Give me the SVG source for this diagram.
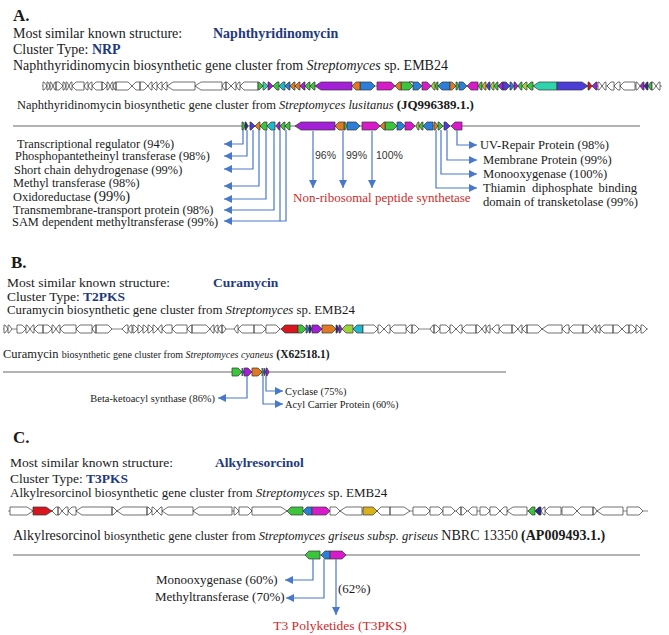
<svg xmlns="http://www.w3.org/2000/svg" width="669" height="635" viewBox="0 0 669 635">
<style>
.t{font-family:"Liberation Serif","Times New Roman",serif;fill:#1a1a1a}
.s{font-family:"Liberation Sans",Arial,sans-serif;fill:#333}
.bd{font-weight:bold}
.hb{font-weight:bold;fill:#1f3a7c}
.rt{fill:#d02a2a}
.it{font-style:italic}
.genes path{stroke:#333;stroke-width:0.7;stroke-linejoin:round}
.w{fill:#fff}.pu{fill:#a41fd8}.gr{fill:#3dc43d}.cb{fill:#2b7fd8}.mg{fill:#d81bc8}.or{fill:#e07a22}.cy{fill:#20b8cc}.tl{fill:#2fd4ad}.bv{fill:#4c3dd8}.rd{fill:#d8161e}.ye{fill:#d9b11a}.li{fill:#9fd33a}.dk{fill:#2d2a8f}
.ax{fill:none;stroke:#4a78c8;stroke-width:1.2;marker-end:url(#ah)}
.ln{fill:none;stroke:#4a78c8;stroke-width:1.2}
.base{stroke:#9a9a9a;stroke-width:1.5}
.bb{stroke:#666;stroke-width:0.8}
</style>
<defs>
<marker id="ah" viewBox="0 0 8 8" refX="8" refY="4" markerWidth="8" markerHeight="8" markerUnits="userSpaceOnUse" orient="auto"><path d="M0,0L8,4L0,8Z" fill="#4a78c8"/></marker>
</defs>

<!-- Section A -->
<g id="sectionA-header">
<text class="t bd" x="13" y="21" font-size="17">A.</text>
<text class="t" x="13" y="38" font-size="14">Most similar known structure:</text>
<text class="t hb" x="213" y="38" font-size="14">Naphthyridinomycin</text>
<text class="t" x="13" y="54" font-size="14">Cluster Type: <tspan class="hb">NRP</tspan></text>
<text class="t" x="13" y="70" font-size="14">Naphthyridinomycin biosynthetic gene cluster from <tspan class="it">Streptomyces</tspan> sp. EMB24</text>
<text class="t" x="17" y="109" font-size="12.5">Naphthyridinomycin biosynthetic gene cluster from <tspan class="it">Streptomyces lusitanus</tspan> <tspan class="bd" font-size="13">(JQ996389.1.)</tspan></text>
</g>
<g id="clusterA-query" class="genes">
<line class="bb" x1="42" y1="86" x2="662" y2="86"/>
<path class="w" d="M43 82H44L47 86L44 90H43Z M47 82H48L50 86L48 90H47Z M50 82H51L53 86L51 90H50Z M56 82H55L53 86L55 90H56Z M56 82H59L63 86L59 90H56Z M63 82H64L66 86L64 90H63Z M66 82H67L69 86L67 90H66Z M72 82H71L69 86L71 90H72Z M84 82H76L72 86L76 90H84Z M88 82H87L84 86L87 90H88Z M92 82H91L88 86L91 90H92Z M102 82H96L92 86L96 90H102Z M102 82H103L107 86L103 90H102Z M107 82H108L110 86L108 90H107Z M113 82H112L110 86L112 90H113Z M116 82H115L113 86L115 90H116Z M116 82H128L132 86L128 90H116Z M140 82H136L132 86L136 90H140Z M140 82H144L148 86L144 90H140Z M152 82H151L148 86L151 90H152Z M157 82H156L152 86L156 90H157Z M162 82H161L157 86L161 90H162Z M167 82H166L162 86L166 90H167Z M195 82H173L167 86L173 90H195Z M222 82H201L195 86L201 90H222Z M226 82H225L222 86L225 90H226Z M226 82H227L231 86L227 90H226Z M236 82H235L231 86L235 90H236Z M240 82H239L236 86L239 90H240Z M258 82H244L240 86L244 90H258Z"/>
<path class="gr" d="M258 82H259L263 86L259 90H258Z M277 82L273 86L277 90H279V82Z M310 82H309L305 86L309 90H310Z M315 82H314L310 86L314 90H315Z M413 82H409L413 86L409 90H401V82Z M438 82H437L435 86L437 90H438Z M456 82H457L459 86L457 90H456Z M482 82H481L478 86L481 90H482Z M498 82H497L494 86L497 90H498Z M522 82H521L518 86L521 90H522Z M533 82H531L527 86L531 90H533Z M652 82H651L648 86L651 90H652Z"/>
<path class="tl" d="M263 82H264L268 86L264 90H263Z M557 82H539L533 86L539 90H557Z"/>
<path class="pu" d="M268 82H269L273 86L269 90H268Z M305 82H304L300 86L304 90H305Z M352 82H321L315 86L321 90H352Z M503 82H502L498 86L502 90H503Z M514 82H515L518 86L515 90H514Z M597 82H596L592 86L596 90H597Z M644 82H643L640 86L643 90H644Z"/>
<path class="cy" d="M285 82H283L279 86L283 90H285Z"/>
<path class="cb" d="M290 82H289L285 86L289 90H290Z M360 82H371L375 86L371 90H360Z M413 82H418L422 86L418 90H413Z M450 82H442L438 86L442 90H450Z M459 82H463L467 86L463 90H459Z M510 82H511L514 86L511 90H510Z"/>
<path class="or" d="M295 82H294L290 86L294 90H295Z M300 82H299L295 86L299 90H300Z M360 82H356L352 86L356 90H360Z M401 82H399L395 86L399 90H401Z M450 82H452L456 86L452 90H450Z"/>
<path class="mg" d="M377 82H391L395 86L391 90H377Z M422 82H427L431 86L427 90H422Z M478 82H471L467 86L471 90H478Z"/>
<path class="li" d="M435 82H434L431 86L434 90H435Z M494 82H493L490 86L493 90H494Z M527 82H526L522 86L526 90H527Z"/>
<path class="ye" d="M486 82H485L482 86L485 90H486Z"/>
<path class="bv" d="M490 82H489L486 86L489 90H490Z M503 82H506L510 86L506 90H503Z M557 82H582L588 86L582 90H557Z"/>
<path class="rd" d="M588 82H589L592 86L589 90H588Z"/>
<path class="dk" d="M648 82H647L644 86L647 90H648Z"/>
<path class="w" d="M598 82H599L602 86L599 90H598Z M606 82H605L602 86L605 90H606Z M614 82H611L607 86L611 90H614Z M620 82H618L614 86L618 90H620Z M635 82H624L620 86L624 90H635Z M636 82H637L640 86L637 90H636Z M652 82H653L656 86L653 90H652Z M660 82H659L656 86L659 90H660Z"/>
</g>
<g id="clusterA-reference" class="genes">
<line class="base" x1="13" y1="126" x2="640" y2="126"/>
<path class="gr" d="M242 122H243L245 126L243 130H242Z M267 122H264L260 126L264 130H267Z M285 122H284L280 126L284 130H285Z M290 122H289L285 126L289 130H290Z M344 122H345L347 126L345 130H344Z M385 122H393L397 126L393 130H385Z M423 122H422L419 126L422 130H423Z M438 122H439L443 126L439 130H438Z"/>
<path class="dk" d="M245 122H246L248 126L246 130H245Z"/>
<path class="bv" d="M250 122H251L255 126L251 130H250Z M444 122H446L450 126L446 130H444Z"/>
<path class="or" d="M260 122H259L255 126L259 130H260Z M344 122H339L335 126L339 130H344Z M385 122H384L380 126L384 130H385Z M434 122H435L438 126L435 130H434Z"/>
<path class="cy" d="M275 122H271L267 126L271 130H275Z"/>
<path class="pu" d="M280 122H279L276 126L279 130H280Z M335 122H301L295 126L301 130H335Z"/>
<path class="cb" d="M347 122H356L360 126L356 130H347Z M397 122H401L405 126L401 130H397Z M433 122H427L423 126L427 130H433Z"/>
<path class="mg" d="M362 122H376L380 126L376 130H362Z M405 122H411L415 126L411 130H405Z M462 122H455L451 126L455 130H462Z"/>
<path class="li" d="M419 122H418L416 126L418 130H419Z"/>
</g>
<g id="labelsA-left">
<text class="t" x="17" y="148" font-size="12.4">Transcriptional regulator (94%)</text>
<text class="t" x="15" y="160" font-size="12.4">Phosphopantetheinyl transferase (98%)</text>
<text class="t" x="14" y="174" font-size="12.4">Short chain dehydrogenase (99%)</text>
<text class="t" x="13" y="187" font-size="12.4">Methyl transferase (98%)</text>
<text class="t" x="13" y="201" font-size="12.4">Oxidoreductase <tspan font-size="14.5">(99%)</tspan></text>
<text class="t" x="13" y="214" font-size="12.4">Transmembrane-transport protein (98%)</text>
<text class="t" x="12" y="226" font-size="12.4">SAM dependent methyltransferase (99%)</text>
</g>
<g id="labelsA-nrps">
<text class="s" x="315" y="159" font-size="10.5">96%</text>
<text class="s" x="346" y="159" font-size="10.5">99%</text>
<text class="s" x="376" y="159" font-size="10.5">100%</text>
<text class="t rt" x="293" y="202" font-size="13">Non-ribosomal peptide synthetase</text>
</g>
<g id="labelsA-right">
<text class="t" x="480" y="149" font-size="12.6">UV-Repair Protein (98%)</text>
<text class="t" x="483" y="164" font-size="12.6">Membrane Protein (99%)</text>
<text class="t" x="483" y="178" font-size="12.6">Monooxygenase (100%)</text>
<text class="t" x="483" y="192" font-size="12.6">Thiamin</text>
<text class="t" x="532" y="192" font-size="12.6">diphosphate</text>
<text class="t" x="637" y="192" font-size="12.6" text-anchor="end">binding</text>
<text class="t" x="483" y="206" font-size="12.6">domain of transketolase (99%)</text>
</g>

<!-- Section B -->
<g id="sectionB-header">
<text class="t bd" x="11" y="268" font-size="17">B.</text>
<text class="t" x="7" y="287" font-size="13.5">Most similar known structure:</text>
<text class="t hb" x="213" y="287" font-size="13.5">Curamycin</text>
<text class="t" x="7" y="301" font-size="13.5">Cluster Type: <tspan class="hb">T2PKS</tspan></text>
<text class="t" x="7" y="314" font-size="12.8">Curamycin biosynthetic gene cluster from <tspan class="it">Streptomyces</tspan> sp. EMB24</text>
<text class="t" x="3" y="358" font-size="12.5">Curamycin <tspan font-size="10">biosynthetic gene cluster from </tspan><tspan class="it" font-size="10">Streptomyces cyaneus</tspan> <tspan class="bd" font-size="11.5">(X62518.1)</tspan></text>
</g>
<g id="clusterB-query" class="genes">
<line class="bb" x1="3" y1="329" x2="648" y2="329"/>
<path class="w" d="M4 325H5L8 329L5 333H4Z M8 325H9L12 329L9 333H8Z M17 325H22L26 329L22 333H17Z M26 325H27L30 329L27 333H26Z M34 325H33L30 329L33 333H34Z M43 325H38L34 329L38 333H43Z M43 325H48L52 329L48 333H43Z M52 325H53L56 329L53 333H52Z M60 325H59L56 329L59 333H60Z M76 325H64L60 329L64 333H76Z M92 325H80L76 329L80 333H92Z M96 325H95L92 329L95 333H96Z M96 325H108L112 329L108 333H96Z M128 325H126L122 329L126 333H128Z M132 325H131L128 329L131 333H132Z M133 325H134L138 329L134 333H133Z M138 325H139L143 329L139 333H138Z M143 325H144L148 329L144 333H143Z M148 325H149L153 329L149 333H148Z M153 325H154L158 329L154 333H153Z M162 325H161L158 329L161 333H162Z M172 325H166L162 329L166 333H172Z M187 325H176L172 329L176 333H187Z M192 325H191L187 329L191 333H192Z M192 325H206L210 329L206 333H192Z M214 325H213L210 329L213 333H214Z M218 325H217L214 329L217 333H218Z M222 325H221L218 329L221 333H222Z M222 325H223L226 329L223 333H222Z M238 325H237L234 329L237 333H238Z M254 325H242L238 329L242 333H254Z M254 325H262L266 329L262 333H254Z M266 325H276L280 329L276 333H266Z"/>
<path class="rd" d="M298 325H285L281 329L285 333H298Z"/>
<path class="gr" d="M298 325H302L306 329L302 333H298Z"/>
<path class="cb" d="M306 325H307L309 329L307 333H306Z"/>
<path class="dk" d="M309 325H310L312 329L310 333H309Z M336 325H337L339 329L337 333H336Z"/>
<path class="pu" d="M312 325H318L322 329L318 333H312Z M339 325H340L342 329L340 333H339Z"/>
<path class="or" d="M322 325H332L336 329L332 333H322Z"/>
<path class="li" d="M353 325H346L342 329L346 333H353Z"/>
<path class="cy" d="M363 325H357L353 329L357 333H363Z"/>
<path class="w" d="M363 325H374L378 329L374 333H363Z M378 325H380L384 329L380 333H378Z M390 325H388L384 329L388 333H390Z M406 325H394L390 329L394 333H406Z M412 325H410L406 329L410 333H412Z M412 325H415L419 329L415 333H412Z M434 325H433L430 329L433 333H434Z M434 325H436L440 329L436 333H434Z M440 325H446L450 329L446 333H440Z M450 325H452L456 329L452 333H450Z M462 325H460L456 329L460 333H462Z M476 325H466L462 329L466 333H476Z M476 325H478L482 329L478 333H476Z M486 325H485L482 329L485 333H486Z M490 325H489L486 329L489 333H490Z M499 325H496L492 329L496 333H499Z M512 325H503L499 329L503 333H512Z M512 325H514L518 329L514 333H512Z M522 325H521L518 329L521 333H522Z M527 325H526L522 329L526 333H527Z M527 325H538L542 329L538 333H527Z M562 325H548L542 329L548 333H562Z M569 325H566L562 329L566 333H569Z M583 325H573L569 329L573 333H583Z M583 325H588L592 329L588 333H583Z M596 325H595L592 329L595 333H596Z M600 325H599L596 329L599 333H600Z M613 325H604L600 329L604 333H613Z M613 325H618L622 329L618 333H613Z M629 325H626L622 329L626 333H629Z M629 325H632L636 329L632 333H629Z M636 325H637L641 329L637 333H636Z M641 325H643L647 329L643 333H641Z"/>
</g>
<g id="clusterB-reference" class="genes">
<line class="base" x1="3" y1="372" x2="506" y2="372"/>
<path class="gr" d="M232 368H238L242 372L238 376H232Z"/>
<path class="cb" d="M242 368L244 372L242 376Z"/>
<path class="pu" d="M244 368H248L252 372L248 376H244Z M266 368H267L269 372L267 376H266Z"/>
<path class="or" d="M252 368H258L262 372L258 376H252Z"/>
<path class="cy" d="M262 368L264 372L262 376Z"/>
<path class="bv" d="M264 368L266 372L264 376Z"/>
</g>
<g id="labelsB">
<text class="t" x="215" y="402" font-size="10.4" text-anchor="end">Beta-ketoacyl synthase (86%)</text>
<text class="t" x="285" y="395" font-size="10.4">Cyclase (75%)</text>
<text class="t" x="285" y="408" font-size="10.4">Acyl Carrier Protein (60%)</text>
</g>

<!-- Section C -->
<g id="sectionC-header">
<text class="t bd" x="13" y="443" font-size="17">C.</text>
<text class="t" x="10" y="467" font-size="13.5">Most similar known structure:</text>
<text class="t hb" x="215" y="467" font-size="13.5">Alkylresorcinol</text>
<text class="t" x="10" y="483" font-size="13.5">Cluster Type: <tspan class="hb">T3PKS</tspan></text>
<text class="t" x="10" y="497" font-size="13">Alkylresorcinol biosynthetic gene cluster from <tspan class="it">Streptomyces</tspan> sp. EMB24</text>
<text class="t" x="13" y="540" font-size="12.5"><tspan font-size="14">Alkylresorcinol</tspan> biosynthetic gene cluster from <tspan class="it">Streptomyces griseus subsp. griseus</tspan> <tspan font-size="14">NBRC 13350</tspan> <tspan class="bd" font-size="14">(AP009493.1.)</tspan></text>
</g>
<g id="clusterC-query" class="genes">
<line class="bb" x1="8" y1="511" x2="648" y2="511"/>
<path class="w" d="M10 507H27L33 511L27 515H10Z M58 507H56L52 511L56 515H58Z M58 507H59L62 511L59 515H58Z M68 507H66L62 511L66 515H68Z M76 507H72L68 511L72 515H76Z M112 507H82L76 511L82 515H112Z M112 507H113L117 511L113 515H112Z M147 507H123L117 511L123 515H147Z M147 507H148L152 511L148 515H147Z M152 507H153L157 511L153 515H152Z M162 507H161L157 511L161 515H162Z M193 507H168L162 511L168 515H193Z M232 507H199L193 511L199 515H232Z M234 507H235L239 511L235 515H234Z M239 507H248L252 511L248 515H239Z M252 507H281L287 511L281 515H252Z M330 507H336L340 511L336 515H330Z M362 507H346L340 511L346 515H362Z M390 507H381L377 511L381 515H390Z M390 507H404L410 511L404 515H390Z M413 507H426L430 511L426 515H413Z M430 507H439L443 511L439 515H430Z M443 507H451L455 511L451 515H443Z M461 507H460L456 511L460 515H461Z M461 507H463L467 511L463 515H461Z M477 507H472L468 511L472 515H477Z M480 507H486L490 511L486 515H480Z M490 507H496L500 511L496 515H490Z M507 507H504L500 511L504 515H507Z M527 507H513L507 511L513 515H527Z M545 507H544L541 511L544 515H545Z M561 507H549L545 511L549 515H561Z M562 507H573L577 511L573 515H562Z M593 507H581L577 511L581 515H593Z M593 507H594L597 511L594 515H593Z M623 507H603L597 511L603 515H623Z M627 507H639L643 511L639 515H627Z"/>
<path class="rd" d="M33 507H46L52 511L46 515H33Z"/>
<path class="gr" d="M303 507H291L287 511L291 515H303Z M535 507H532L528 511L532 515H535Z"/>
<path class="cb" d="M312 507H307L303 511L307 515H312Z"/>
<path class="mg" d="M312 507H326L330 511L326 515H312Z"/>
<path class="ye" d="M363 507H373L377 511L373 515H363Z"/>
<path class="dk" d="M541 507H539L535 511L539 515H541Z"/>
</g>
<g id="clusterC-reference" class="genes">
<line class="base" x1="13" y1="555" x2="640" y2="555"/>
<path class="gr" d="M320 551H309L305 555L309 559H320Z"/>
<path class="cb" d="M330 551H325L321 555L325 559H330Z"/>
<path class="mg" d="M330 551H342L346 555L342 559H330Z"/>
</g>
<g id="labelsC">
<text class="t" x="156" y="584" font-size="13">Monooxygenase (60%)</text>
<text class="t" x="155" y="601" font-size="13">Methyltransferase (70%)</text>
<text class="t" x="338" y="593" font-size="13">(62%)</text>
<text class="t rt" x="340" y="630" font-size="13.5" text-anchor="middle">T3 Polyketides (T3PKS)</text>
</g>

<!-- Connectors -->
<g id="connectors">
<path class="ax" d="M243 130V144H224"/>
<path class="ax" d="M247 130V156H224"/>
<path class="ax" d="M253 130V169H224"/>
<path class="ax" d="M259 130V186H224"/>
<path class="ax" d="M266 130V199H224"/>
<path class="ax" d="M274 130V210H224"/>
<path class="ln" d="M280 130V221"/>
<path class="ax" d="M286 130V221H224"/>
<path class="ax" d="M313 131V188"/>
<path class="ax" d="M343 131V188"/>
<path class="ax" d="M372 131V188"/>
<path class="ax" d="M457 130V145H477"/>
<path class="ax" d="M447 130V160H477"/>
<path class="ax" d="M441 130V174H477"/>
<path class="ax" d="M436 130V188H477"/>
<path class="ax" d="M247 376V398H218"/>
<path class="ax" d="M266 376V391H283"/>
<path class="ax" d="M263 376V404H283"/>
<path class="ax" d="M313 559V580H285"/>
<path class="ax" d="M324 559V598H286"/>
<path class="ax" d="M336 559V615"/>
</g>
</svg>
